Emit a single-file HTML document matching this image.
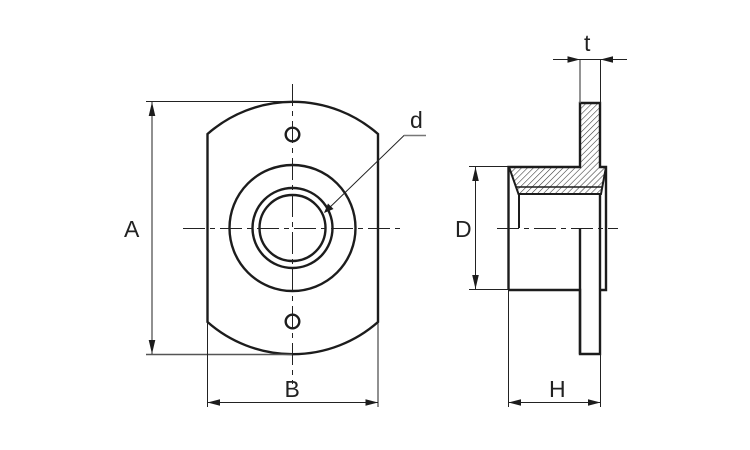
<!DOCTYPE html>
<html>
<head>
<meta charset="utf-8">
<style>
html,body{margin:0;padding:0;background:#fff;width:750px;height:450px;overflow:hidden}
svg{display:block}
text{font-family:"Liberation Sans",sans-serif;font-size:23px;fill:#222}
</style>
</head>
<body>
<svg width="750" height="450" viewBox="0 0 750 450" xmlns="http://www.w3.org/2000/svg">
<defs>
<pattern id="h" width="4.2" height="4.2" patternUnits="userSpaceOnUse" patternTransform="rotate(45)">
<line x1="0" y1="0" x2="0" y2="4.2" stroke="#333" stroke-width="1.1"/>
</pattern>
</defs>
<!-- hatching -->
<path d="M580 103H600V167H606L602 188V194H518L509 167H580Z" fill="url(#h)"/>
<!-- front view -->
<g fill="none" stroke="#1c1c1c" stroke-width="2.4">
<path d="M207.5 134A129 129 0 0 1 378 134V322A129 129 0 0 1 207.5 322Z"/>
<circle cx="292.5" cy="228" r="63"/>
<circle cx="292.5" cy="228" r="40"/>
<circle cx="292.5" cy="228" r="33"/>
<circle cx="292.5" cy="134.5" r="6.8"/>
<circle cx="292.5" cy="321.5" r="6.8"/>
</g>
<!-- side view -->
<g fill="none" stroke="#1c1c1c" stroke-width="2.4">
<path d="M508.5 290V167H580V103H600V167H606V290H600"/>
<path d="M600 194V354H580V229"/>
<path d="M508.5 290H580V354"/>
<path d="M509 167L518.5 194H601L606 167" stroke-width="2"/>
<path d="M515.5 187H603" stroke-width="1.5"/>
<path d="M519 194V228" stroke-width="2"/>
</g>
<!-- centre lines -->
<g stroke="#222" stroke-width="1" stroke-dasharray="22 5 5 5" fill="none">
<path d="M292.5 84V384"/>
<path d="M183 228.5H405"/>
<path d="M497 228.5H618"/>
</g>
<!-- dimension lines -->
<g stroke="#222" stroke-width="1" fill="none">
<path d="M146 101.5H292"/>
<path d="M146 354.5H292" stroke="#555" stroke-width="1.4"/>
<path d="M152 102V354"/>
<path d="M207.5 322V407M378 322V407"/>
<path d="M207.5 402.5H378"/>
<path d="M508.5 290V407M600.5 354V407"/>
<path d="M508.5 402.5H600.5"/>
<path d="M469 166.5H508M469 289.5H508"/>
<path d="M475.5 167V289"/>
<path d="M580 59V103" stroke="#666" stroke-width="1.4"/>
<path d="M600.5 59V103"/>
<path d="M553 59.5H627"/>
<path d="M325 212L404 135.5H426"/>
</g>
<path d="M404 135.5H426" stroke="#777" stroke-width="1.4" fill="none"/>
<!-- arrowheads -->
<g fill="#1c1c1c">
<path d="M152 102L148.7 116H155.3Z"/>
<path d="M152 354L148.7 340H155.3Z"/>
<path d="M207.5 402.5L220 399.2V405.8Z"/>
<path d="M378 402.5L365.5 399.2V405.8Z"/>
<path d="M508.5 402.5L521 399.2V405.8Z"/>
<path d="M600.5 402.5L588 399.2V405.8Z"/>
<path d="M475.5 167L472.2 181H478.8Z"/>
<path d="M475.5 289L472.2 275H478.8Z"/>
<path d="M580 59.5L567.5 56.2V62.8Z"/>
<path d="M600.5 59.5L613 56.2V62.8Z"/>
<path d="M324 213L328 203.5L333.5 209Z"/>
</g>
<!-- labels -->
<text x="124" y="237">A</text>
<text x="284.5" y="397">B</text>
<text x="455" y="237">D</text>
<text x="549" y="397">H</text>
<text x="410" y="128">d</text>
<text x="584" y="51">t</text>
</svg>
</body>
</html>
